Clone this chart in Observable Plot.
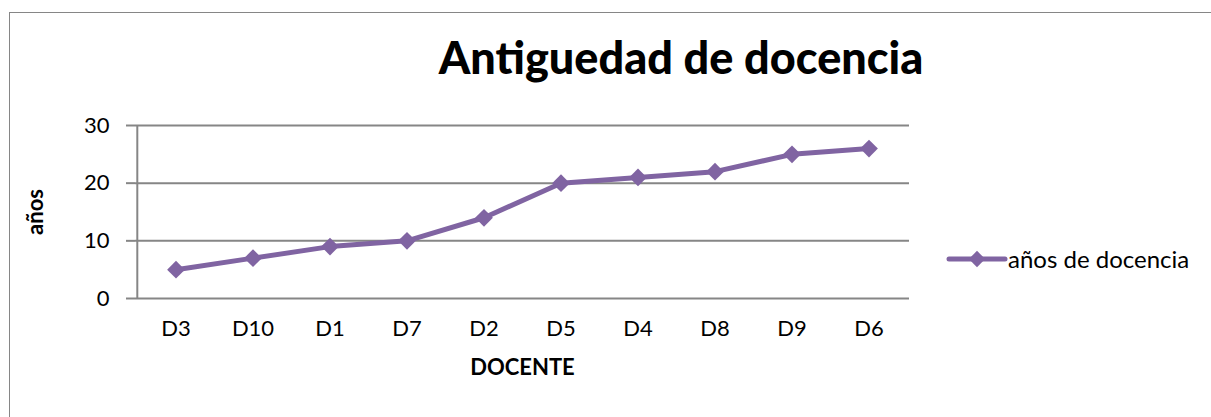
<!DOCTYPE html>
<html>
<head>
<meta charset="utf-8">
<script src="https://cdn.jsdelivr.net/npm/d3@7"></script>
<script src="https://cdn.jsdelivr.net/npm/@observablehq/plot@0.6"></script>
<style>
  html, body { margin: 0; padding: 0; background: #fff; }
  #wrap { position: relative; width: 1211px; height: 417px; overflow: hidden; font-family: Lato, "Open Sans", sans-serif; }
  #frame { position: absolute; left: 9px; top: 12px; width: 1400px; height: 600px; border: 1.5px solid #868686; box-sizing: border-box; }
  #chart { position: absolute; left: 0; top: 0; }
  #title { position: absolute; left: 0; width: 1362px; top: 30px; text-align: center; font-weight: 900; font-size: 45px; color: #000; white-space: nowrap; }
  #legend { position: absolute; left: 946px; top: 244px; display: flex; align-items: center; font-size: 24px; color: #000; white-space: nowrap; }
</style>
</head>
<body>
<div id="wrap">
  <div id="frame"></div>
  <div id="chart"></div>
  <div id="title">Antiguedad de docencia</div>
  <div id="legend"></div>
</div>
<script>
const categories = ["D3", "D10", "D1", "D7", "D2", "D5", "D4", "D8", "D9", "D6"];
const values = [5, 7, 9, 10, 14, 20, 21, 22, 25, 26];
const yTicks = [0, 10, 20, 30];
const seriesName = "años de docencia";
const yLabel = "años";
const xLabel = "DOCENTE";
const color = "#8064A2";

const data = categories.map((c, i) => ({docente: c, anos: values[i]}));

const chart = Plot.plot({
  width: 1211,
  height: 417,
  marginLeft: 135,
  marginRight: 302,
  marginTop: 125,
  marginBottom: 119,
  style: {fontFamily: "Lato, 'Open Sans', sans-serif", fontSize: "22px", color: "#000", background: "transparent"},
  x: {type: "band", domain: categories, padding: 0, label: null},
  y: {domain: [0, 30], label: null},
  marks: [
    Plot.ruleY(yTicks, {stroke: "#868686", strokeWidth: 2, strokeOpacity: 1}),
    Plot.axisY({ticks: yTicks, tickSize: 9, tickPadding: 17, stroke: "#868686", strokeWidth: 2, strokeOpacity: 1, tickFormat: d => String(d), label: null, fill: "#000"}),
    Plot.ruleX([categories[0]], {dx: -38.7, y1: 0, y2: 30, stroke: "#868686", strokeWidth: 2}),
    Plot.axisX({tickSize: 0, tickPadding: 22, label: null, fill: "#000"}),
    Plot.text([yLabel], {frameAnchor: "left", dx: -100, y: 15, rotate: -90, textAnchor: "middle", fontWeight: "bold", fontSize: 22, fill: "#000"}),
    Plot.text([xLabel], {frameAnchor: "bottom", dy: 76, fontWeight: "bold", fontSize: 22, fill: "#000", textAnchor: "middle"}),
    Plot.line(data, {x: "docente", y: "anos", stroke: color, strokeWidth: 5}),
    Plot.dot(data, {x: "docente", y: "anos", symbol: "diamond2", r: 8, fill: color, stroke: "none"})
  ]
});
document.getElementById("chart").appendChild(chart);

// legend
const leg = d3.select("#legend");
const ls = leg.append("svg").attr("width", 62).attr("height", 28);
ls.append("line").attr("x1", 3).attr("x2", 59).attr("y1", 14).attr("y2", 14)
  .attr("stroke", color).attr("stroke-width", 5).attr("stroke-linecap", "round");
ls.append("path").attr("d", d3.symbol(d3.symbolDiamond2, 170)()).attr("transform", "translate(31,14)").attr("fill", color);
leg.append("span").text(seriesName);
</script>
</body>
</html>
